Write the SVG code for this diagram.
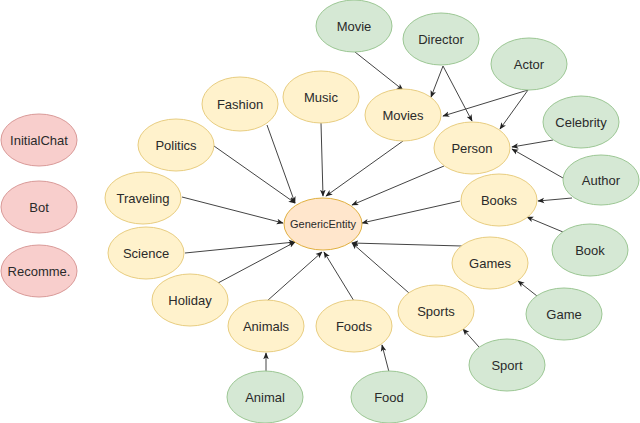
<svg xmlns="http://www.w3.org/2000/svg" width="640" height="423" viewBox="0 0 640 423">
<defs>
<marker id="arr" viewBox="0 0 10 10" refX="9" refY="5" markerWidth="7" markerHeight="7" orient="auto" markerUnits="userSpaceOnUse">
<path d="M0,1 L10,5 L0,9 L2.5,5 Z" fill="#222"/>
</marker>
<style>
ellipse{stroke-width:1}
.g ellipse{fill:#d5e8d4;stroke:#9cc794}
.y ellipse{fill:#fff2cc;stroke:#e8cd80}
.r ellipse{fill:#f8cecc;stroke:#d99a98}
.o ellipse{fill:#ffe6cc;stroke:#e0b040}
text{font-family:"Liberation Sans",Arial,sans-serif;font-size:13px;fill:#2a2a2a;text-anchor:middle;dominant-baseline:central}
.o text{font-size:11px}
#edges line{stroke:#444;stroke-width:1;marker-end:url(#arr)}
</style>
</defs>
<rect width="640" height="423" fill="#fff"/>
<g id="edges">
<line x1="355" y1="52" x2="403" y2="90"/>
<line x1="443" y1="66" x2="431" y2="97"/>
<line x1="443" y1="66" x2="472" y2="121"/>
<line x1="528" y1="90" x2="443" y2="116"/>
<line x1="528" y1="90" x2="500" y2="129"/>
<line x1="553" y1="140" x2="512" y2="147"/>
<line x1="563" y1="178" x2="512" y2="149"/>
<line x1="572" y1="198" x2="538" y2="201"/>
<line x1="563" y1="232" x2="527" y2="217"/>
<line x1="537" y1="296" x2="518" y2="281"/>
<line x1="479" y1="347" x2="463" y2="329"/>
<line x1="266" y1="372" x2="266" y2="353"/>
<line x1="389" y1="372" x2="382" y2="345"/>
<line x1="267" y1="125" x2="295" y2="203"/>
<line x1="214" y1="146" x2="295" y2="203"/>
<line x1="321" y1="123" x2="323" y2="196"/>
<line x1="403" y1="141" x2="326" y2="196"/>
<line x1="444" y1="166" x2="352" y2="205"/>
<line x1="182" y1="197" x2="283" y2="223"/>
<line x1="185" y1="253" x2="295" y2="242"/>
<line x1="218" y1="283" x2="295" y2="242"/>
<line x1="267" y1="301" x2="322" y2="252"/>
<line x1="354" y1="301" x2="324" y2="252"/>
<line x1="409" y1="293" x2="352" y2="243"/>
<line x1="462" y1="246" x2="352" y2="243"/>
<line x1="460" y1="201" x2="362" y2="223"/>
</g>
<g id="InitialChat" class="r"><ellipse cx="39" cy="140" rx="38" ry="26"/><text x="39" y="140">InitialChat</text></g>
<g id="Bot" class="r"><ellipse cx="39" cy="207" rx="38" ry="26"/><text x="39" y="207">Bot</text></g>
<g id="Recomme" class="r"><ellipse cx="39" cy="271" rx="38" ry="26"/><text x="39" y="271">Recomme.</text></g>
<g id="GenericEntity" class="o"><ellipse cx="323" cy="224" rx="39" ry="26"/><text x="323" y="224">GenericEntity</text></g>
<g id="Fashion" class="y"><ellipse cx="240" cy="104" rx="38" ry="27"/><text x="240" y="104">Fashion</text></g>
<g id="Music" class="y"><ellipse cx="321" cy="97" rx="38" ry="26"/><text x="321" y="97">Music</text></g>
<g id="Movies" class="y"><ellipse cx="403" cy="115" rx="38" ry="26"/><text x="403" y="115">Movies</text></g>
<g id="Person" class="y"><ellipse cx="472" cy="148" rx="38" ry="26"/><text x="472" y="148">Person</text></g>
<g id="Politics" class="y"><ellipse cx="176" cy="145" rx="38" ry="26"/><text x="176" y="145">Politics</text></g>
<g id="Traveling" class="y"><ellipse cx="143" cy="198" rx="38" ry="26"/><text x="143" y="198">Traveling</text></g>
<g id="Science" class="y"><ellipse cx="146" cy="253" rx="38" ry="26"/><text x="146" y="253">Science</text></g>
<g id="Holiday" class="y"><ellipse cx="190" cy="300" rx="38" ry="26"/><text x="190" y="300">Holiday</text></g>
<g id="Animals" class="y"><ellipse cx="266" cy="326" rx="38" ry="26"/><text x="266" y="326">Animals</text></g>
<g id="Foods" class="y"><ellipse cx="354" cy="326" rx="38" ry="26"/><text x="354" y="326">Foods</text></g>
<g id="Sports" class="y"><ellipse cx="436" cy="311" rx="38" ry="26"/><text x="436" y="311">Sports</text></g>
<g id="Games" class="y"><ellipse cx="490" cy="263" rx="38" ry="26"/><text x="490" y="263">Games</text></g>
<g id="Books" class="y"><ellipse cx="499" cy="200" rx="38" ry="26"/><text x="499" y="200">Books</text></g>
<g id="Movie" class="g"><ellipse cx="354" cy="26" rx="38" ry="26"/><text x="354" y="26">Movie</text></g>
<g id="Director" class="g"><ellipse cx="441" cy="39" rx="38" ry="26"/><text x="441" y="39">Director</text></g>
<g id="Actor" class="g"><ellipse cx="529" cy="64" rx="38" ry="26"/><text x="529" y="64">Actor</text></g>
<g id="Celebrity" class="g"><ellipse cx="581" cy="122" rx="38" ry="26"/><text x="581" y="122">Celebrity</text></g>
<g id="Author" class="g"><ellipse cx="601" cy="180" rx="38" ry="25"/><text x="601" y="180">Author</text></g>
<g id="Book" class="g"><ellipse cx="590" cy="250" rx="38" ry="26"/><text x="590" y="250">Book</text></g>
<g id="Game" class="g"><ellipse cx="564" cy="314" rx="38" ry="26"/><text x="564" y="314">Game</text></g>
<g id="Sport" class="g"><ellipse cx="507" cy="365" rx="38" ry="26"/><text x="507" y="365">Sport</text></g>
<g id="Animal" class="g"><ellipse cx="265" cy="397" rx="38" ry="26"/><text x="265" y="397">Animal</text></g>
<g id="Food" class="g"><ellipse cx="389" cy="397" rx="38" ry="26"/><text x="389" y="397">Food</text></g>
</svg>
